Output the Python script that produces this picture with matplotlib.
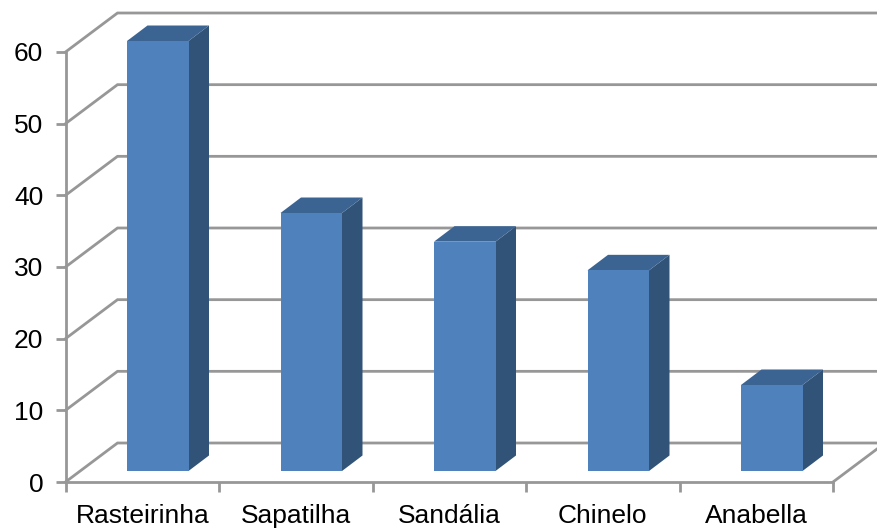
import matplotlib
matplotlib.use("Agg")
import matplotlib.pyplot as plt
from matplotlib.patches import Polygon

categories = ["Rasteirinha", "Sapatilha", "Sandália", "Chinelo", "Anabella"]
values = [60, 36, 32, 28, 12]
y_ticks = [0, 10, 20, 30, 40, 50, 60]

W, H = 877, 532
LEFT, RIGHT, Y0, Y60 = 65.5, 833.0, 482.0, 52.0
GRID = "#979797"
FRONT = "#4f81bd"
TOP = "#3c6493"
SIDE = "#325378"

plt.rcParams["font.family"] = ["Liberation Sans", "DejaVu Sans"]

fig = plt.figure(figsize=(W / 100, H / 100), dpi=100)
ax = fig.add_axes([LEFT / W, 1 - Y0 / H, (RIGHT - LEFT) / W, (Y0 - Y60) / H])
ax.set_xlim(0, len(categories))
ax.set_ylim(0, 60)

# pixel sizes of the oblique projection, in data units
ux = (RIGHT - LEFT) / len(categories)
uy = (Y0 - Y60) / 60
wall_dx, wall_dy = 52 / ux, 39 / uy
bar_dx, bar_dy = 20.5 / ux, 15.5 / uy
bar_x0, bar_lift = 61.5 / ux, 11 / uy
bar_w = 61.5 / ux

# back wall and side wall gridlines
for v in y_ticks:
    ax.plot([0, wall_dx, len(categories) + wall_dx], [v, v + wall_dy, v + wall_dy],
            color=GRID, lw=2.0, clip_on=False, zorder=1, solid_joinstyle="miter")
ax.plot([len(categories), len(categories) + wall_dx], [0, wall_dy],
        color=GRID, lw=2.0, clip_on=False, zorder=1)

# each bar: side, top, then front face
for i, v in enumerate(values):
    x0 = i + bar_x0
    x1 = x0 + bar_w
    y0 = bar_lift
    y1 = v + bar_lift
    side = [(x1, y0), (x1 + bar_dx, y0 + bar_dy), (x1 + bar_dx, y1 + bar_dy), (x1, y1)]
    top = [(x0, y1), (x0 + bar_dx, y1 + bar_dy), (x1 + bar_dx, y1 + bar_dy), (x1, y1)]
    front = [(x0, y0), (x1, y0), (x1, y1), (x0, y1)]
    ax.add_patch(Polygon(side, fc=SIDE, ec="none", clip_on=False, zorder=3))
    ax.add_patch(Polygon(top, fc=TOP, ec="none", clip_on=False, zorder=3))
    ax.add_patch(Polygon(front, fc=FRONT, ec="none", clip_on=False, zorder=4))

for s in ["top", "right"]:
    ax.spines[s].set_visible(False)
for s in ["left", "bottom"]:
    ax.spines[s].set_color(GRID)
    ax.spines[s].set_linewidth(2.0)

ax.set_yticks(y_ticks)
ax.set_xticks(range(len(categories) + 1))
ax.set_xticklabels([])
ax.set_xticks([i + 0.5 for i in range(len(categories))], labels=categories, minor=True)
ax.tick_params(axis="both", which="major", color=GRID, width=2.0, length=7, labelsize=19)
ax.tick_params(axis="y", pad=9, labelcolor="black")
ax.tick_params(axis="x", which="minor", length=0, labelsize=19, pad=16)

fig.savefig("out.png", dpi=100)
